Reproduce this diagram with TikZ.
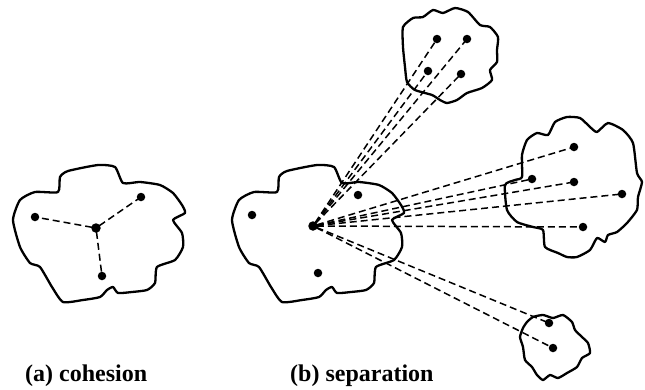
\documentclass[tikz,border=0pt]{standalone}
\usepackage{fontspec}
\setmainfont{Liberation Serif}
\usetikzlibrary{positioning}
\definecolor{inkBlack}{HTML}{000000}
\tikzset{
  blob line/.style={draw=inkBlack,line width=2.3pt,line join=round},
  agent dot/.style={circle,fill=inkBlack,inner sep=0pt,minimum size=8.5pt},
  centre dot/.style={agent dot,minimum size=9.5pt},
  link/.style={draw=inkBlack,line width=1.5pt,dash pattern=on 7pt off 4pt,shorten <=-1pt,shorten >=-1pt},
  caption/.style={font=\bfseries\fontsize{24}{28}\selectfont,anchor=west,inner sep=0pt}
}
% outline of the large group, used twice
\newcommand{\groupoutline}{%
  plot[smooth cycle,tension=0.35] coordinates {(13,220) (20,200) (35,192) (58,192) (60,177)
    (68,171) (98,165) (115,167) (123,183) (140,182) (160,185) (173,193) (182,205)
    (185,213) (173,220) (182,233) (183,247) (175,260) (157,267) (155,283) (147,290)
    (132,292) (118,293) (113,287) (107,290) (100,297) (83,300) (63,302) (52,287)
    (40,267) (30,263) (20,247)}}

\begin{document}
\begin{tikzpicture}[x=1pt,y=-1pt]
  \useasboundingbox (0,0) rectangle (645,389);

  % (a) cohesion
  \draw[blob line] \groupoutline;
  \node[centre dot] (ccen) at (96,228) {};
  \node[agent dot] (ca) at (35,217) {};
  \node[agent dot] (cb) at (141,197) {};
  \node[agent dot] (cc) at (102,276) {};
  \draw[link] (ccen) -- (ca);
  \draw[link] (ccen) -- (cb);
  \draw[link] (ccen) -- (cc);

  % (b) separation
  \begin{scope}[shift={(219,0)}]
    \draw[blob line] \groupoutline;
  \end{scope}
  \draw[blob line] plot[smooth cycle,tension=0.35] coordinates {(403,27) (413,18) (423,17)
    (433,10) (443,13) (455,8) (468,12) (480,25) (490,27) (498,37) (497,50) (497,62)
    (490,70) (492,80) (482,88) (467,93) (457,100) (447,103) (440,100) (432,95)
    (415,90) (407,82) (405,67) (403,47)};
  \draw[blob line] plot[smooth cycle,tension=0.35] coordinates {(522,155) (527,140) (537,133)
    (548,135) (555,122) (567,117) (580,118) (590,127) (597,132) (608,123) (623,130)
    (633,143) (637,173) (642,182) (638,197) (637,210) (627,223) (617,232) (608,235)
    (605,242) (597,238) (590,250) (577,257) (567,257) (558,253) (545,247) (543,230)
    (533,227) (517,222) (507,210) (505,185) (515,180) (522,177)};
  \draw[blob line] plot[smooth cycle,tension=0.35] coordinates {(527,322) (533,317) (543,315)
    (553,318) (563,315) (572,322) (575,330) (582,337) (588,343) (590,353) (582,358)
    (577,367) (567,373) (558,378) (550,375) (543,380) (537,375) (532,367) (525,360)
    (523,347) (520,337) (523,328)};

  \node[centre dot] (scen) at (313,226) {};
  \node[agent dot] (sa) at (252,215) {};
  \node[agent dot] (sb) at (358,195) {};
  \node[agent dot] (sc) at (318,273) {};
  \node[agent dot] (t1) at (437,39) {};
  \node[agent dot] (t2) at (467,39) {};
  \node[agent dot] (t3) at (428,71) {};
  \node[agent dot] (t4) at (461,74) {};
  \node[agent dot] (r1) at (574,147) {};
  \node[agent dot] (r2) at (532,179) {};
  \node[agent dot] (r3) at (574,182) {};
  \node[agent dot] (r4) at (622,194) {};
  \node[agent dot] (r5) at (583,227) {};
  \node[agent dot] (b1) at (549,323) {};
  \node[agent dot] (b2) at (553,348) {};
  \foreach \far in {t1,t2,t3,t4,r1,r2,r3,r4,r5,b1,b2}
    \draw[link] (scen) -- (\far);

  \node[caption] (capa) at (25,376) {(a) cohesion};
  \node[caption] (capb) at (290,376) {(b) separation};
\end{tikzpicture}
\end{document}
